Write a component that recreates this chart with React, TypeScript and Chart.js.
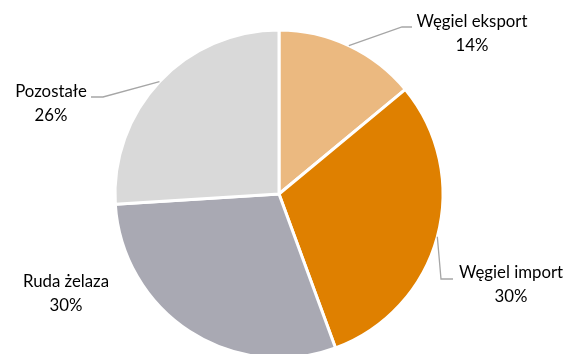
import React, { useEffect, useRef } from "react";
import { Chart, registerables } from "chart.js";

Chart.register(...registerables);

const categories = ["Węgiel eksport", "Węgiel import", "Ruda żelaza", "Pozostałe"];
const shares = [14, 30.4, 29.6, 26];
const colors = ["#EBB980", "#DF8000", "#A9A9B3", "#D9D9D9"];

// label layout (positions only)
const labelLayout = [
  { x: 472, y1: 22, y2: 46, leader: [[402, 27], [412, 27]] },
  { x: 511, y1: 273, y2: 297, leader: [[441, 279], [453, 279]] },
  { x: 66, y1: 282, y2: 306, leader: null },
  { x: 51, y1: 92, y2: 116, leader: [[103, 97], [91, 97]] },
];

const FONT = "16.8px Lato";

const labelPlugin = {
  id: "pieLabels",
  afterDraw(chart: any) {
    const ctx = chart.ctx;
    const meta = chart.getDatasetMeta(0);
    const data = chart.data.datasets[0].data as number[];
    const total = data.reduce((a, b) => a + b, 0);
    ctx.save();
    meta.data.forEach((arc: any, i: number) => {
      const lay = labelLayout[i];
      const p = arc.getProps(["x", "y", "startAngle", "endAngle", "outerRadius"], true);
      const mid = (p.startAngle + p.endAngle) / 2;
      if (lay.leader) {
        const sx = p.x + Math.cos(mid) * p.outerRadius;
        const sy = p.y + Math.sin(mid) * p.outerRadius;
        ctx.beginPath();
        ctx.strokeStyle = "#A6A6A6";
        ctx.lineWidth = 1.3;
        ctx.moveTo(sx, sy);
        lay.leader.forEach(([lx, ly]) => ctx.lineTo(lx, ly));
        ctx.stroke();
      }
      ctx.fillStyle = "#000";
      ctx.font = FONT;
      ctx.textAlign = "center";
      ctx.textBaseline = "middle";
      ctx.fillText(chart.data.labels[i], lay.x, lay.y1);
      ctx.fillText(Math.round((data[i] / total) * 100) + "%", lay.x, lay.y2);
    });
    ctx.restore();
  },
};

export default function App() {
  const ref = useRef<HTMLCanvasElement>(null);
  useEffect(() => {
    document.body.style.margin = "0";
    const chart = new Chart(ref.current!, {
      type: "pie",
      data: {
        labels: categories,
        datasets: [
          {
            data: shares,
            backgroundColor: colors,
            borderColor: "#FFFFFF",
            borderWidth: 3,
            radius: 164,
          } as any,
        ],
      },
      options: {
        responsive: false,
        animation: false,
        layout: { padding: { top: 34, bottom: 0, left: 0, right: 15 } },
        plugins: {
          legend: { display: false },
          tooltip: { enabled: false },
        },
      },
      plugins: [labelPlugin],
    });
    return () => chart.destroy();
  }, []);
  return (
    <div style={{ position: "fixed", left: 0, top: 0, width: 573, height: 354, background: "#fff" }}>
      <canvas ref={ref} width={573} height={354} />
    </div>
  );
}
